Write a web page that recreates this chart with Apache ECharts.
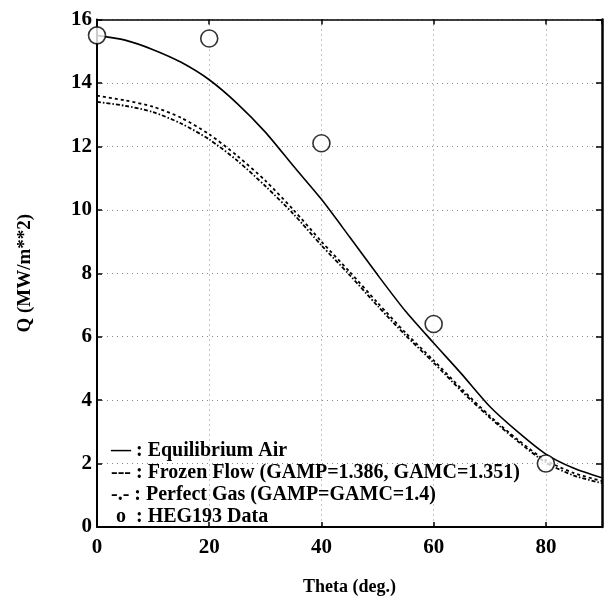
<!DOCTYPE html>
<html>
<head>
<meta charset="utf-8">
<script src="https://cdn.jsdelivr.net/npm/echarts@6/dist/echarts.min.js"></script>
<style>html,body{margin:0;padding:0;background:#fff}#c{width:610px;height:601px}</style>
</head>
<body>
<div id="c"></div>
<script>
var theta = [0,5,10,15,20,25,30,35,40,45,50,55,60,65,70,75,80,85,90];
var equilibrium = [15.5,15.35,15.05,14.65,14.1,13.35,12.45,11.38,10.33,9.15,7.95,6.8,5.8,4.82,3.8,3.0,2.3,1.85,1.55];
var frozen = [13.6,13.45,13.25,12.9,12.38,11.7,10.92,10.0,9.0,8.05,7.07,6.12,5.25,4.35,3.5,2.75,2.1,1.7,1.45];
var perfect = [13.4,13.28,13.08,12.72,12.22,11.55,10.75,9.87,8.88,7.95,6.97,6.04,5.18,4.28,3.45,2.7,2.03,1.62,1.38];
var dataTheta = [0,20,40,60,80];
var dataQ = [15.5,15.4,12.1,6.4,2.0];
var xTicks = [0,20,40,60,80];
var yTicks = [0,2,4,6,8,10,12,14,16];
var legendLines = [
  "\u2014 : Equilibrium Air",
  "--- : Frozen Flow (GAMP=1.386, GAMC=1.351)",
  "-.- : Perfect Gas (GAMP=GAMC=1.4)",
  " o  : HEG193 Data"
];
var xTitle = "Theta (deg.)";
var yTitle = "Q (MW/m**2)";

function pairs(xs, ys){ return xs.map(function(x,i){return [x, ys[i]];}); }

var font = '"Liberation Serif", "DejaVu Serif", serif';
var chart = echarts.init(document.getElementById('c'), null, {renderer:'canvas'});
var gridLine = {show:true, lineStyle:{color:'#888', type:[1,4], width:1}};
var option = {
  backgroundColor:'#fff',
  animation:false,
  grid:{left:97, top:19.5, right:8, bottom:71, containLabel:false},
  xAxis:[{
    type:'value', min:0, max:90, interval:20,
    name:xTitle, nameLocation:'middle', nameGap:51,
    nameTextStyle:{fontFamily:font, fontSize:18, fontWeight:'bold', color:'#000'},
    axisLine:{show:true, onZero:false, lineStyle:{color:'#000', width:2}},
    axisTick:{show:true, inside:true, length:5, lineStyle:{color:'#000', width:1.5}},
    axisLabel:{show:true, fontFamily:font, fontSize:21, fontWeight:'bold', color:'#000', margin:10, showMaxLabel:false,
      formatter:function(v){return xTicks.indexOf(v)>=0 ? String(v) : '';}},
    splitLine:gridLine
  },{
    type:'value', min:0, max:90, interval:20, position:'top',
    axisLine:{show:true, onZero:false, lineStyle:{color:'#000', width:1.5}},
    axisTick:{show:true, inside:true, length:5, lineStyle:{color:'#000', width:1.5}},
    axisLabel:{show:false}, splitLine:{show:false}
  }],
  yAxis:[{
    type:'value', min:0, max:16, interval:2,
    name:yTitle, nameLocation:'middle', nameGap:62, nameRotate:90,
    nameTextStyle:{fontFamily:font, fontSize:19, fontWeight:'bold', color:'#000'},
    axisLine:{show:true, onZero:false, lineStyle:{color:'#000', width:2}},
    axisTick:{show:true, inside:true, length:5, lineStyle:{color:'#000', width:1.5}},
    axisLabel:{show:true, fontFamily:font, fontSize:21, fontWeight:'bold', color:'#000', margin:5,
      formatter:function(v){return yTicks.indexOf(v)>=0 ? String(v) : '';}},
    splitLine:gridLine
  },{
    type:'value', min:0, max:16, interval:2, position:'right',
    axisLine:{show:true, onZero:false, lineStyle:{color:'#000', width:2.5}},
    axisTick:{show:true, inside:true, length:6, lineStyle:{color:'#000', width:1.5}},
    axisLabel:{show:false}, splitLine:{show:false}
  }],
  series:[
    {type:'line', name:'Equilibrium Air', data:pairs(theta, equilibrium), smooth:0.25, showSymbol:false,
      lineStyle:{color:'#000', width:1.6, type:'solid'}},
    {type:'line', name:'Frozen Flow', data:pairs(theta, frozen), smooth:0.25, showSymbol:false,
      lineStyle:{color:'#000', width:1.8, type:[3,3]}},
    {type:'line', name:'Perfect Gas', data:pairs(theta, perfect), smooth:0.25, showSymbol:false,
      lineStyle:{color:'#000', width:1.8, type:[4,2,1.5,2]}},
    {type:'scatter', name:'HEG193 Data', data:pairs(dataTheta, dataQ), symbol:'circle', symbolSize:17,
      itemStyle:{color:'#fff', borderColor:'#000', borderWidth:1.6}, z:5}
  ],
  graphic: legendLines.map(function(t,i){
    return {type:'text', left:111, top:441 + i*22, z:10,
      style:{text:t, fontFamily:font, fontSize:20, fontWeight:'bold', fill:'#000'}};
  })
};
chart.setOption(option);
</script>
</body>
</html>
